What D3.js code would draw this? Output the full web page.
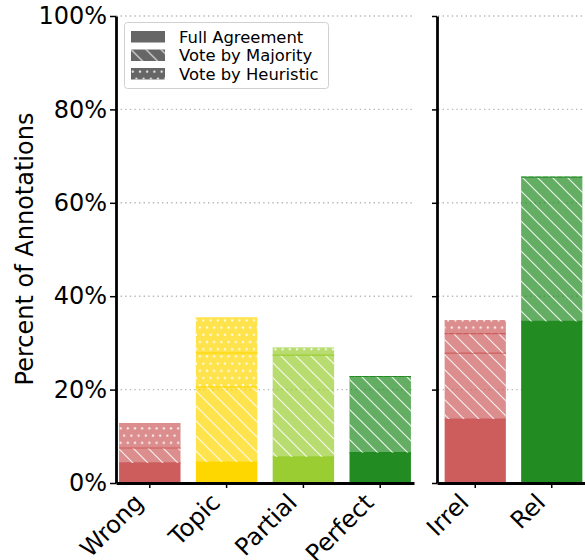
<!DOCTYPE html>
<html>
<head>
<meta charset="utf-8">
<script src="https://cdn.jsdelivr.net/npm/d3@7"></script>
<style>
  body { margin: 0; background: #fff; }
  svg { font-family: "DejaVu Sans", sans-serif; }
</style>
</head>
<body>
<div class="container"></div>
<script>
// categories, left panel (answer quality) and right panel (relevance)
const categoriesLeft = ['Wrong', 'Topic', 'Partial', 'Perfect'];
const categoriesRight = ['Irrel', 'Rel'];
const barColors = ['indianred', 'gold', 'yellowgreen', 'forestgreen', 'indianred', 'forestgreen'];

// percent of annotations, one entry per bar (left then right)
const fullAgreement = [4.3, 4.5, 5.6, 6.5, 13.7, 34.6];
const voteByMajority = [[3.2], [16.1], [21.8], [16.3], [14.1, 4.2], [30.9]];
const voteByHeuristic = [[5.35], [7.2, 7.7], [1.65], [0.1], [2.9], [0.1]];

const yTicks = [0, 20, 40, 60, 80, 100];
const legendLabels = ['Full Agreement', 'Vote by Majority', 'Vote by Heuristic'];

const W = 585, H = 560;

const svg = d3.select('.container').append('svg')
  .attr('width', W)
  .attr('height', H);

// patterns for the hatches
var defs = svg.append('defs');
var s = 15;
defs.append('pattern')
  .attr('id', 'hatch')
  .attr('patternUnits', 'userSpaceOnUse')
  .attr('width', s).attr('height', s)
  .append('path')
  .attr('d', 'M-1,-1L' + (s + 1) + ',' + (s + 1) + 'M' + (s - 1) + ',-1L' + (s + 1) + ',1M-1,' + (s - 1) + 'L1,' + (s + 1))
  .attr('stroke', '#fff')
  .attr('stroke-opacity', 0.85)
  .attr('stroke-width', 1.2);

var dp = 7.2;
var dots = defs.append('pattern')
  .attr('id', 'dots')
  .attr('patternUnits', 'userSpaceOnUse')
  .attr('width', dp).attr('height', dp * 2);
dots.append('circle').attr('cx', dp / 4).attr('cy', dp / 2).attr('r', 1.15).attr('fill', '#fff').attr('fill-opacity', 0.85);
dots.append('circle').attr('cx', dp * 3 / 4).attr('cy', dp * 1.5).attr('r', 1.15).attr('fill', '#fff').attr('fill-opacity', 0.85);

var y = d3.scaleLinear().domain([0, 100]).range([483, 16]);

var xLeft = d3.scaleBand().domain(categoriesLeft).range([116, 414]).paddingInner(0.2).paddingOuter(0.04);
var xRight = d3.scaleBand().domain(categoriesRight).range([437, 590]).paddingInner(0.2).paddingOuter(0.1);

// gridlines
var grid = svg.append('g').attr('class', 'grid');
[[116, 415], [438, 585]].forEach(function (r) {
  grid.selectAll(null)
    .data(yTicks.filter(function (d) { return d > 0; }))
    .enter().append('line')
    .attr('x1', r[0]).attr('x2', r[1])
    .attr('y1', function (d) { return y(d); })
    .attr('y2', function (d) { return y(d); })
    .attr('stroke', '#b8b8b8')
    .attr('stroke-width', 1.4)
    .attr('stroke-dasharray', '1.4,3.2');
});

// build stacked segments
var allCats = categoriesLeft.concat(categoriesRight);
var bars = allCats.map(function (cat, i) {
  var segs = [{type: 'full', v: fullAgreement[i]}];
  voteByMajority[i].forEach(function (v) { segs.push({type: 'majority', v: v}); });
  voteByHeuristic[i].forEach(function (v) { segs.push({type: 'heuristic', v: v}); });
  var acc = 0;
  segs.forEach(function (d, j) {
    d.y0 = acc; acc += d.v; d.y1 = acc;
    d.last = j === segs.length - 1;
    d.color = barColors[i];
  });
  var x = i < 4 ? xLeft : xRight;
  return {cat: cat, x: x(cat), w: x.bandwidth(), segs: segs};
});

var barGroup = svg.selectAll('g.bar')
  .data(bars)
  .enter().append('g')
  .attr('class', function (d) { return 'bar ' + d.cat; });

barGroup.each(function (b) {
  var g = d3.select(this);
  var seg = g.selectAll('g').data(b.segs).enter().append('g');
  seg.append('rect')
    .attr('x', b.x).attr('width', b.w)
    .attr('y', function (d) { return y(d.y1); })
    .attr('height', function (d) { return y(d.y0) - y(d.y1); })
    .attr('fill', function (d) { return d.color; })
    .attr('fill-opacity', function (d) { return d.type === 'full' ? 1 : 0.7; });
  seg.filter(function (d) { return d.type !== 'full'; })
    .append('rect')
    .attr('x', b.x).attr('width', b.w)
    .attr('y', function (d) { return y(d.y1); })
    .attr('height', function (d) { return y(d.y0) - y(d.y1); })
    .attr('fill', function (d) { return d.type === 'majority' ? 'url(#hatch)' : 'url(#dots)'; });
  seg.filter(function (d) { return !d.last; })
    .append('line')
    .attr('x1', b.x).attr('x2', b.x + b.w)
    .attr('y1', function (d) { return y(d.y1); })
    .attr('y2', function (d) { return y(d.y1); })
    .attr('stroke', function (d) { return d.color; })
    .attr('stroke-width', 1.2);
});

// axes
function styleAxis(g) {
  g.select('.domain').attr('stroke-width', 2.8).attr('stroke', '#000');
  g.selectAll('.tick line').attr('stroke-width', 1.5).attr('stroke', '#000');
  g.selectAll('.tick text').attr('font-size', 24).attr('fill', '#000').attr('font-family', 'DejaVu Sans');
}

svg.append('g')
  .attr('transform', 'translate(116,0)')
  .call(d3.axisLeft(y).tickValues(yTicks).tickSize(6).tickSizeOuter(0).tickPadding(3)
    .tickFormat(function (d) { return d + '%'; }))
  .call(styleAxis);

svg.append('g')
  .attr('transform', 'translate(437,0)')
  .call(d3.axisLeft(y).tickValues(yTicks).tickSize(5).tickSizeOuter(0).tickFormat(''))
  .call(styleAxis);

[xLeft, xRight].forEach(function (x) {
  svg.append('g')
    .attr('transform', 'translate(0,483)')
    .call(d3.axisBottom(x).tickSize(5).tickSizeOuter(0))
    .call(styleAxis)
    .selectAll('.tick text')
    .attr('x', 0).attr('y', 0).attr('dy', 0)
    .attr('transform', 'translate(-5,21) rotate(-45)')
    .style('text-anchor', 'end');
});

// y axis title
svg.append('text')
  .attr('transform', 'translate(33,249) rotate(-90)')
  .attr('text-anchor', 'middle')
  .attr('font-size', 24)
  .text('Percent of Annotations');

// legend
var legend = svg.append('g').attr('class', 'legend');
legend.append('rect')
  .attr('x', 124.5).attr('y', 22.5)
  .attr('width', 204).attr('height', 66)
  .attr('rx', 3)
  .attr('fill', '#fff').attr('fill-opacity', 0.85)
  .attr('stroke', '#d0d0d0');

var legendFills = [null, 'url(#hatch)', 'url(#dots)'];
var item = legend.selectAll('g.item')
  .data(legendLabels)
  .enter().append('g')
  .attr('class', 'item')
  .attr('transform', function (d, i) { return 'translate(131,' + (31 + i * 18.5) + ')'; });
item.append('rect')
  .attr('width', 34).attr('height', 11.5)
  .attr('fill', '#666');
item.filter(function (d, i) { return i > 0; })
  .append('rect')
  .attr('width', 34).attr('height', 11.5)
  .attr('fill', function (d, i) { return legendFills[i + 1]; });
item.append('text')
  .attr('x', 48).attr('y', 11.5)
  .attr('font-size', 16.4)
  .text(function (d) { return d; });
</script>
</body>
</html>
